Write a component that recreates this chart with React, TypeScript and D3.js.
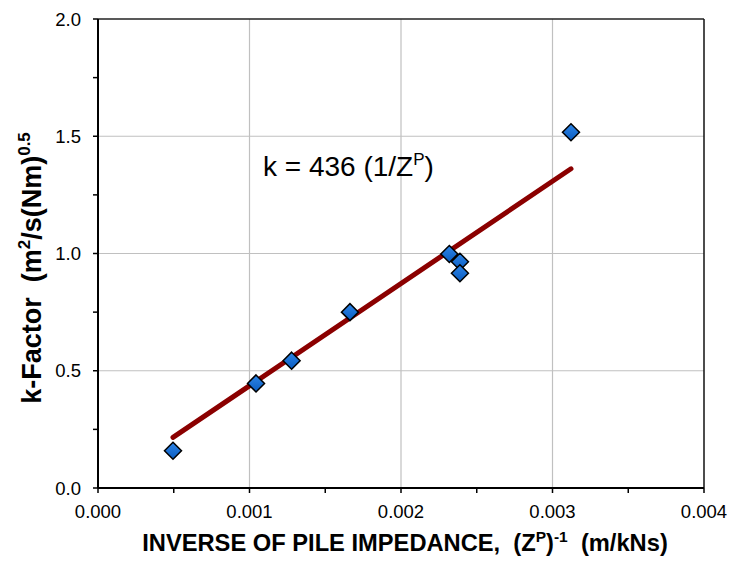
import React from "react";
import * as d3 from "d3";

const xValues = [0.000495, 0.001043, 0.001278, 0.001663, 0.002319, 0.002389, 0.002389, 0.003122];
const yValues = [0.159, 0.446, 0.543, 0.75, 0.998, 0.965, 0.916, 1.517];
const slope = 436;
const xTicks = [0, 0.001, 0.002, 0.003, 0.004];
const xMinorTicks = [0.0005, 0.0015, 0.0025, 0.0035];
const yTicks = [0, 0.5, 1.0, 1.5, 2.0];
const yMinorTicks = [0.25, 0.75, 1.25, 1.75];

const W = 729;
const H = 566;
const m = { left: 98, right: 704, top: 19, bottom: 488 };

export default function App() {
  const x = d3.scaleLinear().domain([0, 0.004]).range([m.left, m.right]);
  const y = d3.scaleLinear().domain([0, 2]).range([m.bottom, m.top]);
  const font = "Liberation Sans, Arial, sans-serif";
  const xFitMin = d3.min(xValues) as number;
  const xFitMax = d3.max(xValues) as number;
  const line = d3.line<number>().x((d) => x(d)).y((d) => y(slope * d));
  const diamond = (cx: number, cy: number, r: number) =>
    `M${cx},${cy - r}L${cx + r},${cy}L${cx},${cy + r}L${cx - r},${cy}Z`;

  return (
    <svg width={W} height={H} style={{ position: "absolute", left: 0, top: 0 }}>
      <defs>
        <linearGradient id="mk" x1="0" y1="0" x2="0" y2="1">
          <stop offset="0" stopColor="#2f86e8" />
          <stop offset="1" stopColor="#0a5cc0" />
        </linearGradient>
      </defs>
      <rect width={W} height={H} fill="#fff" />
      {/* gridlines */}
      {xTicks.slice(1, -1).map((t) => (
        <line key={"gx" + t} x1={x(t)} x2={x(t)} y1={m.top} y2={m.bottom} stroke="#c0c0c0" strokeWidth={1.2} />
      ))}
      {yTicks.slice(1, -1).map((t) => (
        <line key={"gy" + t} x1={m.left} x2={m.right} y1={y(t)} y2={y(t)} stroke="#c0c0c0" strokeWidth={1.2} />
      ))}
      {/* frame */}
      <line x1={m.left} x2={m.right} y1={m.top} y2={m.top} stroke="#222" strokeWidth={1.5} />
      <line x1={m.right} x2={m.right} y1={m.top} y2={m.bottom} stroke="#111" strokeWidth={1.5} />
      <line x1={m.left} x2={m.left} y1={m.top} y2={m.bottom} stroke="#000" strokeWidth={2} />
      <line x1={m.left} x2={m.right} y1={m.bottom} y2={m.bottom} stroke="#000" strokeWidth={2} />
      {/* ticks */}
      {xTicks.concat(xMinorTicks).map((t) => (
        <line key={"tx" + t} x1={x(t)} x2={x(t)} y1={m.bottom} y2={m.bottom + 5} stroke="#000" strokeWidth={1.5} />
      ))}
      {yTicks.concat(yMinorTicks).map((t) => (
        <line key={"ty" + t} x1={m.left - 5} x2={m.left} y1={y(t)} y2={y(t)} stroke="#000" strokeWidth={1.5} />
      ))}
      {xTicks.map((t) => (
        <text key={"lx" + t} x={x(t)} y={m.bottom + 30} textAnchor="middle" fontFamily={font} fontSize={18.5} fill="#000">
          {d3.format(".3f")(t)}
        </text>
      ))}
      {yTicks.map((t) => (
        <text key={"ly" + t} x={m.left - 17} y={y(t) + 6.5} textAnchor="end" fontFamily={font} fontSize={18.5} fill="#000">
          {d3.format(".1f")(t)}
        </text>
      ))}
      {/* fit line */}
      <path d={line([xFitMin, xFitMax]) || ""} stroke="#8b0000" strokeWidth={5} strokeLinecap="round" fill="none" />
      {/* points */}
      {xValues.map((v, i) => (
        <path key={"p" + i} d={diamond(x(v), y(yValues[i]), 8.5)} fill="url(#mk)" stroke="#000" strokeWidth={1.5} />
      ))}
      {/* annotation */}
      <text x={263} y={176} fontFamily={font} fontSize={28} fill="#000">
        k = 436 (1/Z<tspan fontSize={17} dy={-11}>P</tspan><tspan dy={11}>)</tspan>
      </text>
      {/* y title */}
      <text transform={`translate(41,268) rotate(-90)`} textAnchor="middle" fontFamily={font} fontWeight="bold" fontSize={27} fill="#000" style={{ whiteSpace: "pre" }}>
        {"k-Factor  (m"}<tspan fontSize={17} dy={-11}>2</tspan><tspan dy={11}>/s(Nm)</tspan><tspan fontSize={17} dy={-11}>0.5</tspan>
      </text>
      {/* x title */}
      <text x={405} y={551} textAnchor="middle" fontFamily={font} fontWeight="bold" fontSize={23.7} fill="#000" style={{ whiteSpace: "pre" }}>
        {"INVERSE OF PILE IMPEDANCE,  (Z"}<tspan fontSize={15.5} dy={-9}>P</tspan><tspan dy={9}>)</tspan><tspan fontSize={15.5} dy={-9}>-1</tspan><tspan dy={9}>{"  (m/kNs)"}</tspan>
      </text>
    </svg>
  );
}
